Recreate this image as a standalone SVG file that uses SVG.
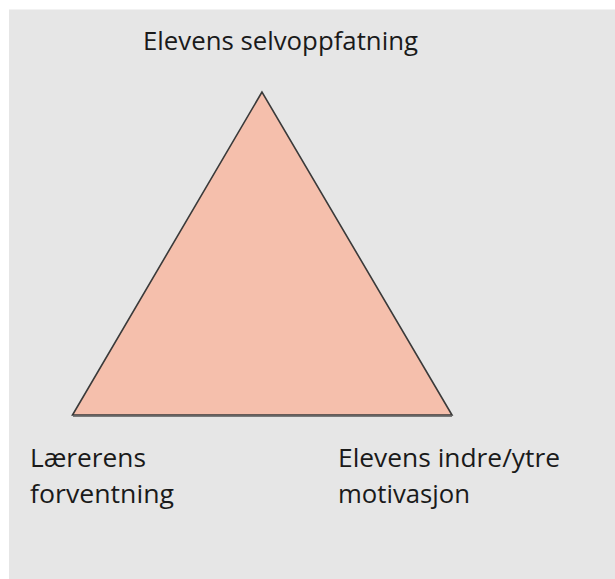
<svg xmlns="http://www.w3.org/2000/svg" width="615" height="579" viewBox="0 0 615 579">
<style>
.lbl{font-family:"Open Sans","Noto Sans","Liberation Sans",sans-serif;font-size:25px;fill:#1a1a1a;}
.tri{fill:#f5bfac;stroke:#3a3a3a;stroke-width:1.6;stroke-linejoin:miter;}
</style>
<rect x="0" y="0" width="615" height="579" fill="#ffffff"/>
<rect x="9" y="9.5" width="606" height="569.5" fill="#e6e6e6"/>
<g id="connectors"></g>
<g id="triangle">
<polygon class="tri" points="262,92 72.5,415 452,415"/>
<line x1="73" y1="416.5" x2="452" y2="416.5" stroke="#7a7a7a" stroke-width="1.2"/>
</g>
<g id="node-top">
<text class="lbl" x="143" y="50" textLength="275" lengthAdjust="spacingAndGlyphs">Elevens selvoppfatning</text>
</g>
<g id="node-left">
<text class="lbl" x="30" y="467" textLength="116" lengthAdjust="spacingAndGlyphs">Lærerens</text>
<text class="lbl" x="30" y="503" textLength="144" lengthAdjust="spacingAndGlyphs">forventning</text>
</g>
<g id="node-right">
<text class="lbl" x="338" y="467" textLength="222" lengthAdjust="spacingAndGlyphs">Elevens indre/ytre</text>
<text class="lbl" x="338" y="503" textLength="132" lengthAdjust="spacingAndGlyphs">motivasjon</text>
</g>
</svg>
